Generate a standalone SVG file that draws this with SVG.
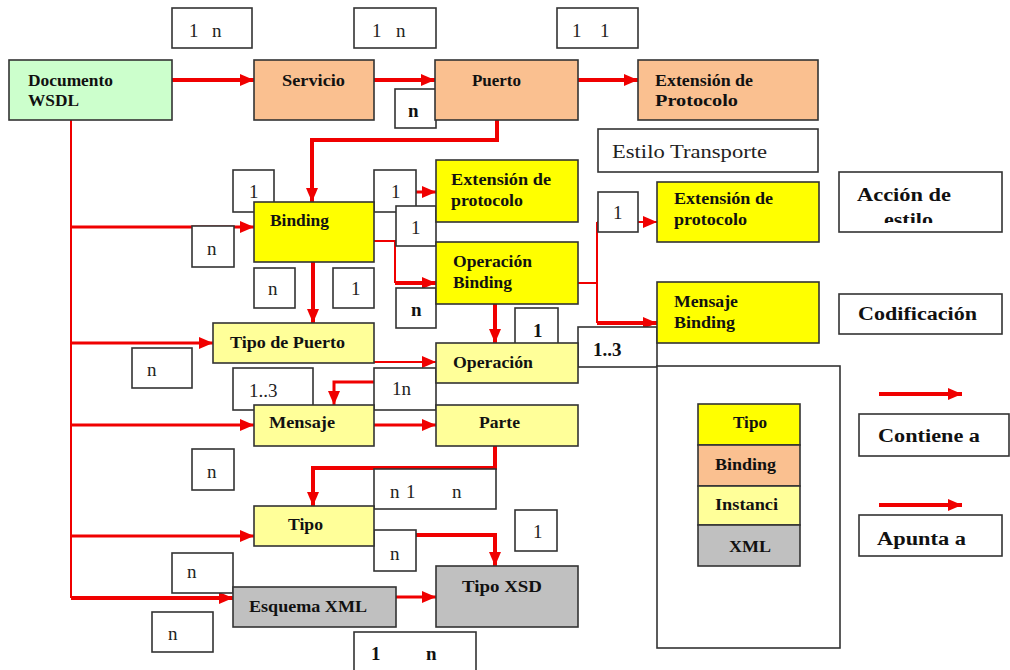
<svg xmlns="http://www.w3.org/2000/svg" width="1010" height="670" viewBox="0 0 1010 670">
<style>
.box{stroke:#333;stroke-width:1.6}
.w{fill:#fff}
.green{fill:#ccffcc}
.peach{fill:#fac090}
.yel{fill:#ffff00}
.ly{fill:#ffff99}
.gray{fill:#c0c0c0}
.t{font-family:"Liberation Serif","Times New Roman",serif;font-weight:bold;font-size:16px;fill:#111}
.r{font-family:"Liberation Serif","Times New Roman",serif;font-size:19px;fill:#222}
.rb{font-family:"Liberation Serif","Times New Roman",serif;font-weight:bold;font-size:19px;fill:#111}
.c{fill:none;stroke:#f00000}
.thick{stroke-width:4}
.mid{stroke-width:3}
.thin{stroke-width:2}
</style>
<defs>
<marker id="ah" markerUnits="userSpaceOnUse" markerWidth="14" markerHeight="12" refX="14" refY="6" orient="auto">
<path d="M0,0 L14,6 L0,12 z" fill="#f00000"/>
</marker>
<clipPath id="clipEstilo"><rect x="839" y="172" width="163" height="51"/></clipPath>
</defs>
<rect width="1010" height="670" fill="#fff"/>

<g id="connectors">
<path class="c thick" d="M172,80 H254" marker-end="url(#ah)"/>
<path class="c thick" d="M374,80 H435" marker-end="url(#ah)"/>
<path class="c thick" d="M578,80 H638" marker-end="url(#ah)"/>
<path class="c thick" d="M497,120 V140 H312 V202" marker-end="url(#ah)"/>
<path class="c thin" d="M71,120 V598"/>
<path class="c mid" d="M71,227 H254" marker-end="url(#ah)"/>
<path class="c mid" d="M71,343 H213" marker-end="url(#ah)"/>
<path class="c mid" d="M71,425 H254" marker-end="url(#ah)"/>
<path class="c mid" d="M71,536 H254" marker-end="url(#ah)"/>
<path class="c thick" d="M71,598 H233" marker-end="url(#ah)"/>
<path class="c mid" d="M374,192 H436" marker-end="url(#ah)"/>
<path class="c thin" d="M374,241 H395 V283"/>
<path class="c thick" d="M395,283 H436" marker-end="url(#ah)"/>
<path class="c thick" d="M313,262 V323" marker-end="url(#ah)"/>
<path class="c thick" d="M495,304 V343" marker-end="url(#ah)"/>
<path class="c thin" d="M374,362 H436" marker-end="url(#ah)"/>
<path class="c thin" d="M578,283 H597 M597,222 V323"/>
<path class="c thin" d="M597,222 H657" marker-end="url(#ah)"/>
<path class="c thick" d="M597,323 H657" marker-end="url(#ah)"/>
<path class="c mid" d="M436,382 H334 V405" marker-end="url(#ah)"/>
<path class="c mid" d="M374,425 H436" marker-end="url(#ah)"/>
<path class="c thick" d="M495,446 V468 H313 V506" marker-end="url(#ah)"/>
<path class="c thick" d="M374,535 H495 V566" marker-end="url(#ah)"/>
<path class="c mid" d="M396,597 H436" marker-end="url(#ah)"/>
<path class="c thick" d="M879,394 H962" marker-end="url(#ah)"/>
<path class="c thick" d="M879,505 H962" marker-end="url(#ah)"/>
</g>

<g id="cardinalities">
<g id="card-doc-serv"><rect class="box w" x="172" y="8" width="80" height="40"/><text class="r" x="189" y="37">1</text><text class="r" x="212" y="37">n</text></g>
<g id="card-serv-puerto"><rect class="box w" x="354" y="8" width="82" height="40"/><text class="r" x="372" y="37">1</text><text class="r" x="396" y="37">n</text></g>
<g id="card-puerto-ext"><rect class="box w" x="557" y="8" width="81" height="40"/><text class="r" x="572" y="37">1</text><text class="r" x="600" y="37">1</text></g>
<g id="card-puerto-n"><rect class="box w" x="395" y="89" width="41" height="39"/><text class="rb" x="408" y="117">n</text></g>
<g id="card-bind-1"><rect class="box w" x="233" y="170" width="41" height="42"/><text class="r" x="249" y="198">1</text></g>
<g id="card-bind-n"><rect class="box w" x="192" y="226" width="42" height="41"/><text class="r" x="207" y="255">n</text></g>
<g id="card-bind-n2"><rect class="box w" x="254" y="268" width="41" height="40"/><text class="r" x="268" y="295">n</text></g>
<g id="card-bind-1b"><rect class="box w" x="333" y="268" width="41" height="40"/><text class="r" x="351" y="295">1</text></g>
<g id="card-ext-1"><rect class="box w" x="374" y="170" width="42" height="42"/><text class="r" x="391" y="198">1</text></g>
<g id="card-ext-1b"><rect class="box w" x="396" y="206" width="40" height="40"/><text class="r" x="411" y="234">1</text></g>
<g id="card-opb-n"><rect class="box w" x="396" y="288" width="40" height="40"/><text class="rb" x="411" y="316">n</text></g>
<g id="card-op-1"><rect class="box w" x="515" y="308" width="43" height="39"/><text class="rb" x="533" y="337">1</text></g>
<g id="card-op-13"><rect class="box w" x="578" y="327" width="79" height="40"/><text class="rb" x="593" y="356">1..3</text></g>
<g id="card-ext2-1"><rect class="box w" x="598" y="192" width="40" height="40"/><text class="r" x="613" y="219">1</text></g>
<g id="card-tp-n"><rect class="box w" x="132" y="348" width="60" height="40"/><text class="r" x="147" y="376">n</text></g>
<g id="card-msg-13"><rect class="box w" x="233" y="368" width="80" height="42"/><text class="r" x="249" y="397">1..3</text></g>
<g id="card-msg-1n"><rect class="box w" x="374" y="368" width="62" height="42"/><text class="r" x="392" y="395">1n</text></g>
<g id="card-msg-n"><rect class="box w" x="192" y="449" width="42" height="41"/><text class="r" x="207" y="478">n</text></g>
<g id="card-parte"><rect class="box w" x="374" y="469" width="122" height="40"/><text class="r" x="390" y="498">n</text><text class="r" x="406" y="498">1</text><text class="r" x="452" y="498">n</text></g>
<g id="card-tipo-n"><rect class="box w" x="374" y="530" width="42" height="41"/><text class="r" x="390" y="560">n</text></g>
<g id="card-xsd-1"><rect class="box w" x="515" y="510" width="42" height="41"/><text class="r" x="533" y="538">1</text></g>
<g id="card-esq-n"><rect class="box w" x="172" y="553" width="61" height="40"/><text class="r" x="187" y="578">n</text></g>
<g id="card-esq-n2"><rect class="box w" x="152" y="612" width="61" height="40"/><text class="r" x="168" y="640">n</text></g>
<g id="card-bottom"><rect class="box w" x="354" y="632" width="122" height="44"/><text class="rb" x="371" y="660">1</text><text class="rb" x="426" y="660">n</text></g>
</g>

<g id="nodes">
<g id="doc"><rect class="box green" x="9" y="60" width="163" height="60"/><text class="t" x="28" y="86" textLength="85" lengthAdjust="spacingAndGlyphs">Documento</text><text class="t" x="28" y="106" textLength="51" lengthAdjust="spacingAndGlyphs">WSDL</text></g>
<g id="servicio"><rect class="box peach" x="254" y="60" width="120" height="60"/><text class="t" x="282" y="86" textLength="63" lengthAdjust="spacingAndGlyphs">Servicio</text></g>
<g id="puerto"><rect class="box peach" x="435" y="60" width="143" height="60"/><text class="t" x="472" y="86" textLength="49" lengthAdjust="spacingAndGlyphs">Puerto</text></g>
<g id="ext-prot"><rect class="box peach" x="638" y="60" width="180" height="60"/><text class="t" x="655" y="86" textLength="98" lengthAdjust="spacingAndGlyphs">Extensión de</text><text class="t" x="655" y="106" textLength="83" lengthAdjust="spacingAndGlyphs">Protocolo</text></g>
<g id="estilo-transporte"><rect class="box w" x="598" y="129" width="220" height="43"/><text class="r" x="612" y="158" textLength="155" lengthAdjust="spacingAndGlyphs">Estilo Transporte</text></g>
<g id="binding"><rect class="box yel" x="254" y="202" width="120" height="60"/><text class="t" x="270" y="226" textLength="59" lengthAdjust="spacingAndGlyphs">Binding</text></g>
<g id="ext-prot-1"><rect class="box yel" x="436" y="160" width="142" height="62"/><text class="t" x="451" y="185" textLength="100" lengthAdjust="spacingAndGlyphs">Extensión de</text><text class="t" x="451" y="206" textLength="72" lengthAdjust="spacingAndGlyphs">protocolo</text></g>
<g id="op-binding"><rect class="box yel" x="436" y="242" width="142" height="62"/><text class="t" x="453" y="267" textLength="79" lengthAdjust="spacingAndGlyphs">Operación</text><text class="t" x="453" y="288" textLength="59" lengthAdjust="spacingAndGlyphs">Binding</text></g>
<g id="ext-prot-2"><rect class="box yel" x="657" y="182" width="162" height="60"/><text class="t" x="674" y="204" textLength="99" lengthAdjust="spacingAndGlyphs">Extensión de</text><text class="t" x="674" y="225" textLength="73" lengthAdjust="spacingAndGlyphs">protocolo</text></g>
<g id="msg-binding"><rect class="box yel" x="657" y="282" width="162" height="61"/><text class="t" x="674" y="307" textLength="64" lengthAdjust="spacingAndGlyphs">Mensaje</text><text class="t" x="674" y="328" textLength="61" lengthAdjust="spacingAndGlyphs">Binding</text></g>
<g id="accion-estilo"><rect class="box w" x="839" y="172" width="163" height="60"/><text class="t" x="857" y="201" style="font-size:18px" textLength="94" lengthAdjust="spacingAndGlyphs">Acción de</text><text class="t" x="884" y="226" clip-path="url(#clipEstilo)" style="font-size:18px" textLength="49" lengthAdjust="spacingAndGlyphs">estilo</text></g>
<g id="codificacion"><rect class="box w" x="839" y="294" width="163" height="40"/><text class="t" x="858" y="320" style="font-size:18px" textLength="119" lengthAdjust="spacingAndGlyphs">Codificación</text></g>
<g id="tipo-puerto"><rect class="box ly" x="213" y="323" width="161" height="40"/><text class="t" x="230" y="348" textLength="115" lengthAdjust="spacingAndGlyphs">Tipo de Puerto</text></g>
<g id="operacion"><rect class="box ly" x="436" y="343" width="142" height="40"/><text class="t" x="453" y="368" textLength="80" lengthAdjust="spacingAndGlyphs">Operación</text></g>
<g id="mensaje"><rect class="box ly" x="254" y="405" width="120" height="41"/><text class="t" x="269" y="428" textLength="66" lengthAdjust="spacingAndGlyphs">Mensaje</text></g>
<g id="parte"><rect class="box ly" x="436" y="405" width="142" height="41"/><text class="t" x="479" y="428" textLength="41" lengthAdjust="spacingAndGlyphs">Parte</text></g>
<g id="tipo"><rect class="box ly" x="254" y="506" width="120" height="40"/><text class="t" x="288" y="530" textLength="35" lengthAdjust="spacingAndGlyphs">Tipo</text></g>
<g id="esquema"><rect class="box gray" x="233" y="587" width="163" height="40"/><text class="t" x="249" y="612" textLength="118" lengthAdjust="spacingAndGlyphs">Esquema XML</text></g>
<g id="tipo-xsd"><rect class="box gray" x="436" y="566" width="142" height="61"/><text class="t" x="462" y="592" textLength="80" lengthAdjust="spacingAndGlyphs">Tipo  XSD</text></g>
</g>

<g id="legend">
<rect class="box w" x="657" y="366" width="183" height="282"/>
<g id="leg-tipo"><rect class="box yel" x="698" y="404" width="102" height="41"/><text class="t" x="733" y="428" textLength="34" lengthAdjust="spacingAndGlyphs">Tipo</text></g>
<g id="leg-binding"><rect class="box peach" x="698" y="445" width="102" height="41"/><text class="t" x="715" y="470" textLength="61" lengthAdjust="spacingAndGlyphs">Binding</text></g>
<g id="leg-instanci"><rect class="box ly" x="698" y="486" width="102" height="39"/><text class="t" x="715" y="510" textLength="63" lengthAdjust="spacingAndGlyphs">Instanci</text></g>
<g id="leg-xml"><rect class="box gray" x="698" y="525" width="102" height="41"/><text class="t" x="729" y="552" textLength="42" lengthAdjust="spacingAndGlyphs">XML</text></g>
<g id="leg-contiene"><rect class="box w" x="859" y="414" width="150" height="42"/><text class="t" x="878" y="442" style="font-size:18px" textLength="102" lengthAdjust="spacingAndGlyphs">Contiene a</text></g>
<g id="leg-apunta"><rect class="box w" x="859" y="515" width="143" height="41"/><text class="t" x="877" y="545" style="font-size:18px" textLength="89" lengthAdjust="spacingAndGlyphs">Apunta a</text></g>
</g>
</svg>
